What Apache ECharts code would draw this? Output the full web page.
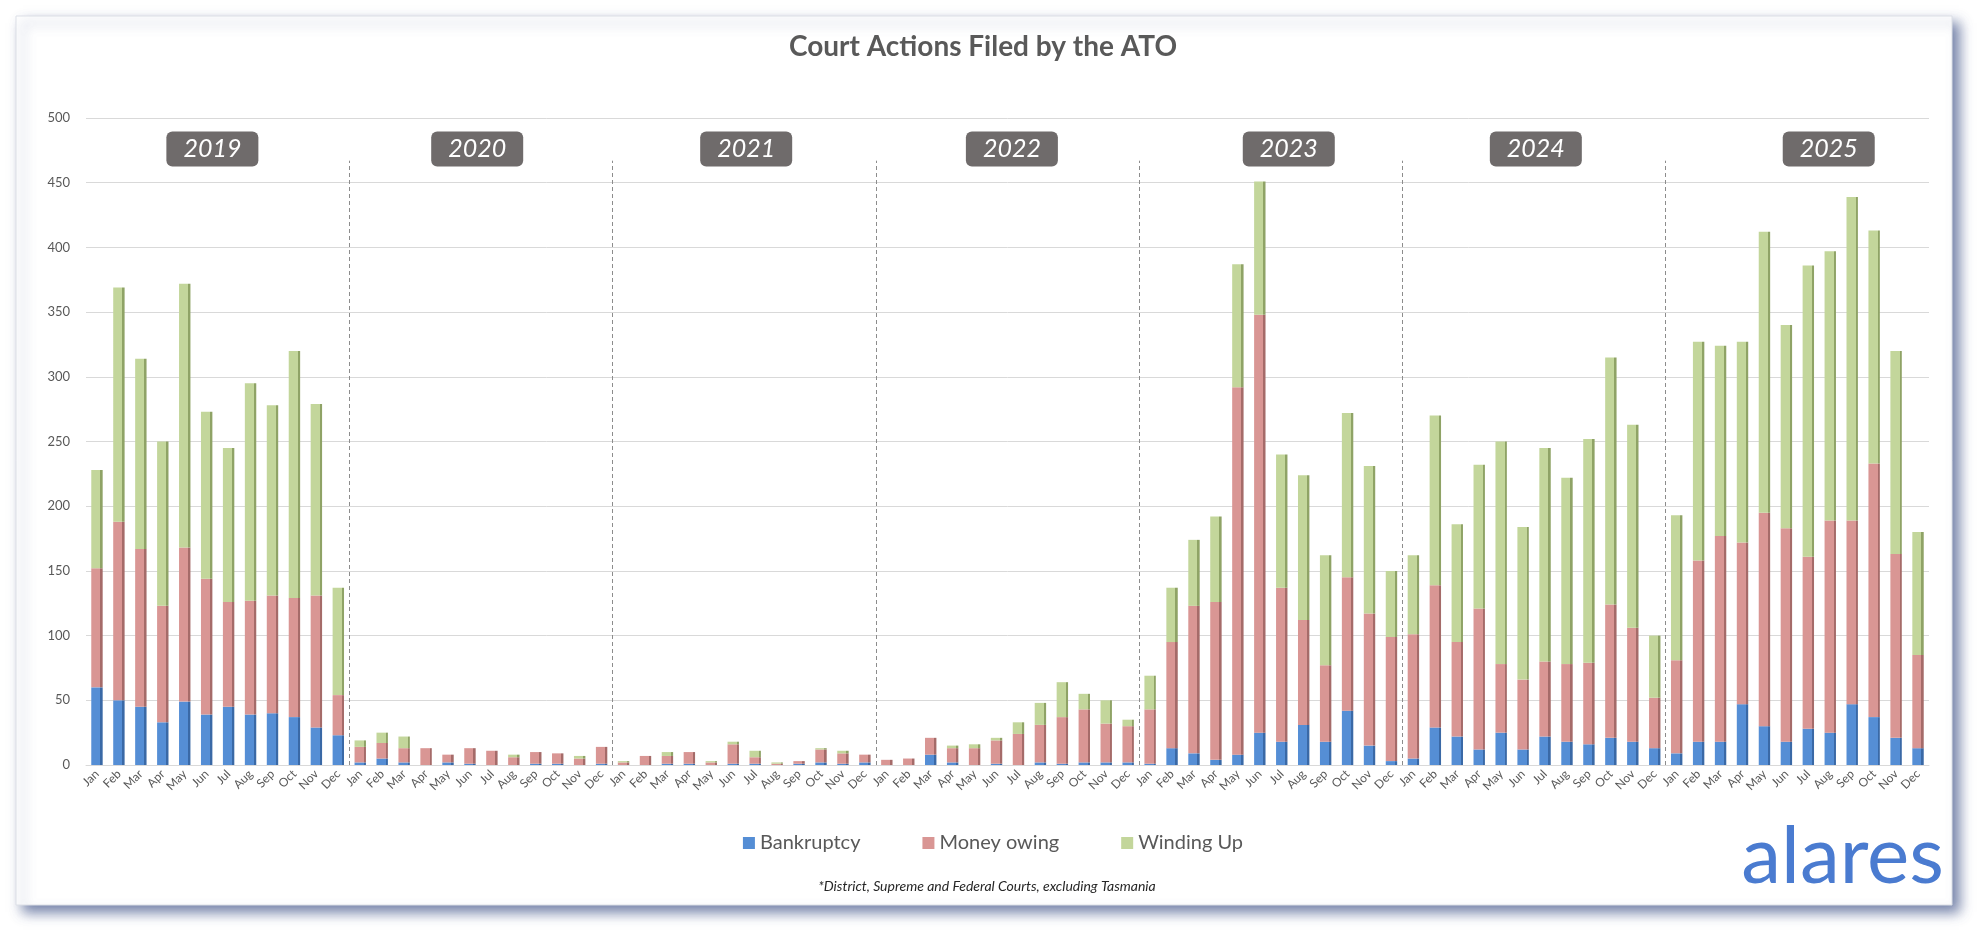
<!DOCTYPE html>
<html>
<head>
<meta charset="utf-8">
<script src="https://cdn.jsdelivr.net/npm/echarts@6/dist/echarts.min.js"></script>
<style>
html,body{margin:0;padding:0;background:#fff;}
#chart{width:1986px;height:940px;}
</style>
</head>
<body>
<div id="chart"></div>
<script>
// ---------------- data ----------------
const years = ['2019', '2020', '2021', '2022', '2023', '2024', '2025'];
const months = ['Jan', 'Feb', 'Mar', 'Apr', 'May', 'Jun', 'Jul', 'Aug', 'Sep', 'Oct', 'Nov', 'Dec'];
const yTicks = [0, 50, 100, 150, 200, 250, 300, 350, 400, 450, 500];

const bankruptcy = [
  60, 50, 45, 33, 49, 39, 45, 39, 40, 37, 29, 23,
  2, 5, 2, 0, 2, 1, 0, 0, 1, 1, 0, 1,
  0, 0, 1, 1, 0, 1, 1, 0, 1, 2, 1, 2,
  0, 0, 8, 2, 0, 1, 0, 2, 1, 2, 2, 2,
  1, 13, 9, 4, 8, 25, 18, 31, 18, 42, 15, 3,
  5, 29, 22, 12, 25, 12, 22, 18, 16, 21, 18, 13,
  9, 18, 18, 47, 30, 18, 28, 25, 47, 37, 21, 13
];
const moneyOwing = [
  92, 138, 122, 90, 119, 105, 81, 88, 91, 92, 102, 31,
  12, 12, 11, 13, 6, 12, 11, 6, 9, 8, 5, 13,
  2, 7, 6, 9, 2, 15, 5, 1, 2, 10, 8, 6,
  4, 5, 13, 11, 13, 18, 24, 29, 36, 41, 30, 28,
  42, 82, 114, 122, 284, 323, 119, 81, 59, 103, 102, 96,
  96, 110, 73, 109, 53, 54, 58, 60, 63, 103, 88, 39,
  72, 140, 159, 125, 165, 165, 133, 164, 142, 196, 142, 72
];
const windingUp = [
  76, 181, 147, 127, 204, 129, 119, 168, 147, 191, 148, 83,
  5, 8, 9, 0, 0, 0, 0, 2, 0, 0, 2, 0,
  1, 0, 3, 0, 1, 2, 5, 1, 0, 1, 2, 0,
  0, 0, 0, 2, 3, 2, 9, 17, 27, 12, 18, 5,
  26, 42, 51, 66, 95, 103, 103, 112, 85, 127, 114, 51,
  61, 131, 91, 111, 172, 118, 165, 144, 173, 191, 157, 48,
  112, 169, 147, 155, 217, 157, 225, 208, 250, 180, 157, 95
];

// ---------------- layout / style ----------------
const yearLabelAt = [5.76, 17.83, 30.09, 42.2, 54.82, 66.08, 79.43]; // label centre, in month units from the axis start
const yearLabelLevel = 476;
const separatorTop = 467;

const categories = [];
years.forEach(y => months.forEach(m => categories.push(y + '-' + m)));

const palette = {
  Bankruptcy: ['#558ED5', '#3A69A6'],
  'Money owing': ['#D99694', '#A56B69'],
  'Winding Up': ['#C3D69B', '#8FA366']
};
function faceColor(name) {
  const c = palette[name];
  return new echarts.graphic.LinearGradient(0, 0, 1, 0, [
    { offset: 0, color: c[0] }, { offset: 0.8, color: c[0] },
    { offset: 0.8, color: c[1] }, { offset: 1, color: c[1] }
  ]);
}
function barSeries(name, values) {
  return {
    name: name, type: 'bar', stack: 'total', data: values,
    barWidth: '52%', xAxisIndex: 0, yAxisIndex: 0,
    itemStyle: { color: faceColor(name) },
    emphasis: { disabled: true }
  };
}

const FONT = 'Lato, "Open Sans", sans-serif';
const chart = echarts.init(document.getElementById('chart'), null, { renderer: 'canvas' });

const boundaries = [];
for (let k = 1; k < years.length; k++) {
  boundaries.push([{ coord: [k * months.length, 0] }, { coord: [k * months.length, separatorTop] }]);
}

chart.setOption({
  backgroundColor: '#ffffff',
  animation: false,
  graphic: [
    {
      type: 'rect', z: -100, silent: true,
      shape: { x: 16, y: 16, width: 1936, height: 889 },
      style: {
        fill: '#ffffff', stroke: '#dcdfe6', lineWidth: 1,
        shadowBlur: 12, shadowOffsetX: 7, shadowOffsetY: 7,
        shadowColor: 'rgba(70,88,140,0.75)'
      }
    },
    {
      type: 'text', x: 983, y: 47, z: 10,
      style: {
        text: 'Court Actions Filed by the ATO', textAlign: 'center', textVerticalAlign: 'middle',
        fill: '#595959', font: 'bold 28px ' + FONT
      }
    },
    {
      type: 'text', x: 987, y: 886, z: 10,
      style: {
        text: '*District, Supreme and Federal Courts, excluding Tasmania', textAlign: 'center',
        textVerticalAlign: 'middle', fill: '#262626', font: 'italic 14px ' + FONT
      }
    },
    {
      type: 'text', x: 1944, y: 897, z: 10,
      style: {
        text: 'alares', textAlign: 'right', textVerticalAlign: 'bottom',
        fill: '#4A7BD0', font: '80px ' + FONT
      }
    }
  ],
  legend: {
    data: ['Bankruptcy', 'Money owing', 'Winding Up'].map(n => ({ name: n, itemStyle: { color: palette[n][0] } })),
    left: 'center', top: 828, icon: 'rect', itemWidth: 12, itemHeight: 12, itemGap: 62,
    textStyle: { fontFamily: FONT, fontSize: 20, color: '#595959' },
    selectedMode: false
  },
  grid: { left: 86, right: 57, top: 118, bottom: 175, containLabel: false },
  xAxis: [
    {
      type: 'category', data: categories, boundaryGap: true,
      axisLine: { show: true, lineStyle: { color: '#d9d9d9' } },
      axisTick: { show: false },
      axisLabel: {
        interval: 0, rotate: 45, margin: 7, fontSize: 12, color: '#595959', fontFamily: FONT,
        formatter: v => v.split('-')[1]
      },
      splitLine: { show: false }
    },
    {
      type: 'value', min: 0, max: categories.length, show: false
    }
  ],
  yAxis: {
    type: 'value', min: yTicks[0], max: yTicks[yTicks.length - 1], interval: yTicks[1] - yTicks[0],
    axisLine: { show: false }, axisTick: { show: false },
    axisLabel: { fontSize: 13, color: '#595959', margin: 16, fontFamily: FONT },
    splitLine: { lineStyle: { color: '#d9d9d9', width: 1 } }
  },
  series: [
    barSeries('Bankruptcy', bankruptcy),
    barSeries('Money owing', moneyOwing),
    barSeries('Winding Up', windingUp),
    {
      name: 'years', type: 'scatter', xAxisIndex: 1, yAxisIndex: 0, z: 5,
      symbolSize: 0, silent: true,
      itemStyle: { opacity: 1 },
      data: years.map((y, i) => ({ value: [yearLabelAt[i], yearLabelLevel], name: y })),
      label: {
        show: true, position: 'inside', formatter: p => p.name, opacity: 1,
        backgroundColor: '#6F6B6B', color: '#ffffff', fontStyle: 'italic',
        fontFamily: FONT, fontSize: 25, lineHeight: 27, width: 54, align: 'center',
        padding: [4, 19], borderRadius: 6
      },
      markLine: {
        silent: true, symbol: 'none', label: { show: false },
        lineStyle: { type: [4, 3], color: '#8c8c8c', width: 1 },
        data: boundaries
      }
    }
  ]
});
</script>
</body>
</html>
